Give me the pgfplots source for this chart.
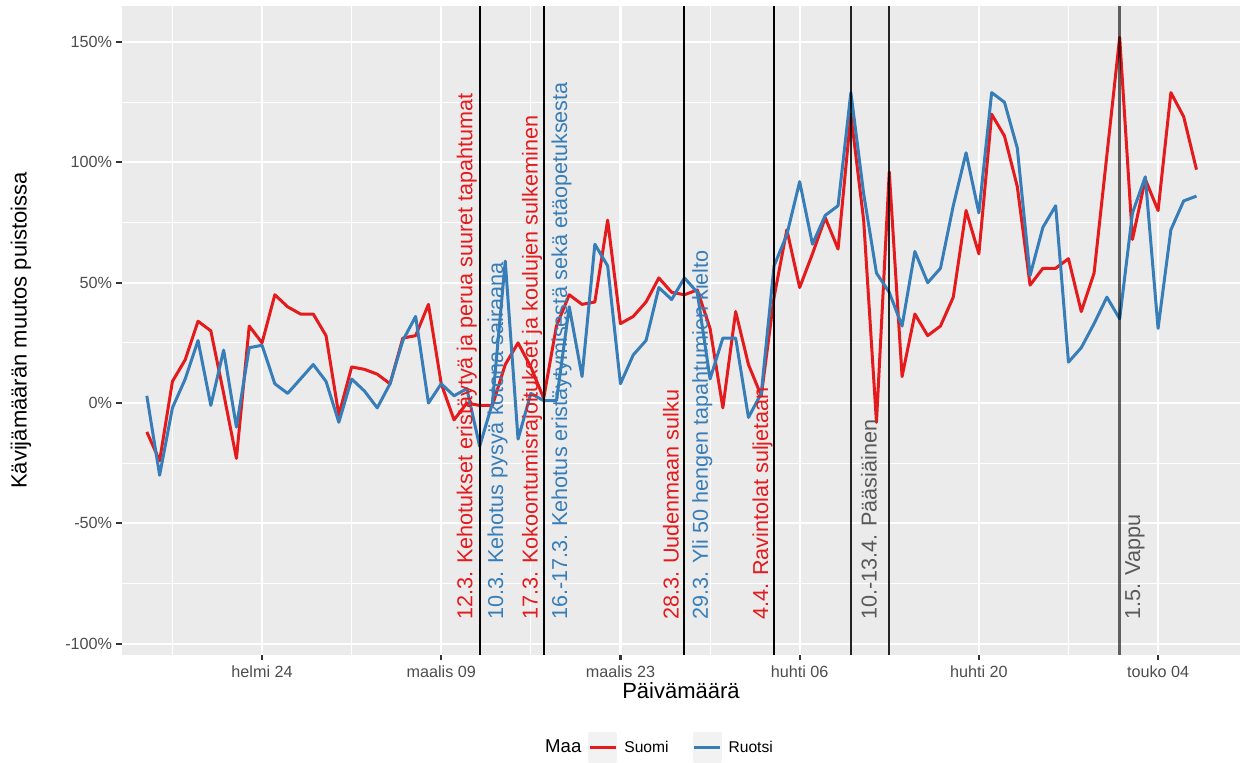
\documentclass[border=0pt]{standalone}
\usepackage{pgfplots}
\usepackage{pgfplotstable}
\pgfplotsset{compat=1.18}
\usepackage{fontspec}
\setmainfont{Liberation Sans}
\definecolor{suomi}{HTML}{E41A1C}
\definecolor{ruotsi}{HTML}{377EB8}
\definecolor{panelbg}{HTML}{EBEBEB}
\definecolor{ticktext}{HTML}{4D4D4D}
\definecolor{tickcol}{HTML}{333333}
\definecolor{keybg}{HTML}{F2F2F2}
\definecolor{grytext}{HTML}{595959}

\pgfplotstableread{
d suomi ruotsi
-9 -12 3
-8 -24 -30
-7 9 -2
-6 18 10
-5 34 26
-4 30 -1
-3 4 22
-2 -23 -10
-1 32 23
0 25 24
1 45 8
2 40 4
3 37 10
4 37 16
5 28 9
6 -5 -8
7 15 10
8 14 5
9 12 -2
10 8 8
11 27 26
12 28 36
13 41 0
14 8 8
15 -7 3
16 0 6
17 -1 -18
18 -1 0
19 16 59
20 25 -15
21 15 4
22 2 1
23 32 1
24 45 40
25 41 11
26 42 66
27 76 57
28 33 8
29 36 20
30 42 26
31 52 48
32 46 43
33 45 52
34 47 46
35 31 10
36 -2 27
37 38 27
38 16 -6
39 3 4
40 44 57
41 72 70
42 48 92
43 62 66
44 77 78
45 64 82
46 120 129
47 76 87
48 -8 54
49 96 46
50 11 32
51 37 63
52 28 50
53 32 56
54 44 82
55 80 104
56 62 79
57 120 129
58 111 125
59 90 106
60 49 53
61 56 73
62 56 82
63 60 17
64 38 23
65 54 33
66 103 44
67 152 35
68 68 79
69 93 94
70 80 31
71 129 72
72 119 84
73 97 86
}\datatable

\begin{document}
\begin{tikzpicture}
\useasboundingbox (-61pt,-54pt) rectangle (563.5pt,327.5pt);
\begin{axis}[
  at={(0,0)}, anchor=south west,
  width=559pt, height=324.5pt, scale only axis,
  xmin=-10.94, xmax=76.4,
  ymin=-104.7, ymax=165,
  axis background/.style={fill=panelbg},
  axis line style={draw=none},
  xtick={0,14,28,42,56,70},
  xticklabels={helmi 24, maalis 09, maalis 23, huhti 06, huhti 20, touko 04},
  minor xtick={-7,7,21,35,49,63},
  ytick={-100,-50,0,50,100,150},
  yticklabels={-100\%,-50\%,0\%,50\%,100\%,150\%},
  minor ytick={-75,-25,25,75,125},
  grid=both,
  major grid style={white, line width=1.07pt},
  minor grid style={white, line width=0.53pt},
  tick align=outside, tick pos=left,
  major tick length=2.75pt, minor tick length=0pt,
  tick style={color=tickcol, line width=1.07pt},
  ticklabel style={font=\fontsize{8.1}{9.5}\selectfont, text=ticktext},
  xticklabel style={anchor=north, inner sep=0pt, yshift=-2.5pt},
  yticklabel style={anchor=east, inner sep=0pt, xshift=-2pt},
  xlabel={Päivämäärä},
  ylabel={Kävijämäärän muutos puistoissa},
  label style={font=\fontsize{11}{13}\selectfont},
  xlabel style={at={(axis description cs:0.5,0)}, anchor=center, yshift=-18pt},
  ylabel style={at={(axis description cs:0,0.5)}, anchor=center, yshift=50.5pt},
  legend columns=-1,
  legend style={at={(axis description cs:0.4803,0)}, anchor=center, yshift=-46.5pt,
    draw=none, fill=none, inner sep=0pt, font=\fontsize{7.8}{9}\selectfont,
    nodes={inner sep=0pt},
    /tikz/column 2/.style={column sep=3.5pt},
    /tikz/column 3/.style={column sep=3.5pt},
    /tikz/column 4/.style={column sep=12pt},
    /tikz/column 5/.style={column sep=3.5pt}},
  legend image code/.code={
    \fill[keybg] (0pt,-7pt) rectangle (13pt,7pt);
    \draw[#1] (0pt,0pt) -- (13pt,0pt);
  },
]
\addlegendimage{empty legend}
\addlegendentry[font=\fontsize{9.3}{11}\selectfont]{Maa}
\addplot[suomi, line width=1.5pt, line join=round] table[x=d, y=suomi] {\datatable};
\addlegendentry{Suomi}
\addplot[ruotsi, line width=1.5pt, line join=round] table[x=d, y=ruotsi] {\datatable};
\addlegendentry{Ruotsi}

\addplot[black, line width=1pt, forget plot] coordinates {(17,-104.7) (17,165)};
\addplot[black, line width=1pt, forget plot] coordinates {(22,-104.7) (22,165)};
\addplot[black, line width=1pt, forget plot] coordinates {(33,-104.7) (33,165)};
\addplot[black, line width=1pt, forget plot] coordinates {(40,-104.7) (40,165)};
\addplot[black, opacity=0.85, line width=1pt, forget plot] coordinates {(46,-104.7) (46,165)};
\addplot[black, opacity=0.85, line width=1pt, forget plot] coordinates {(49,-104.7) (49,165)};
\addplot[black, opacity=0.6, line width=1.2pt, forget plot] coordinates {(67,-104.7) (67,165)};

\begin{scope}[every node/.style={rotate=90, anchor=west, inner sep=0pt, font=\fontsize{10.8}{12}\selectfont}]
\node[text=suomi] at (axis cs:16.0,-90.2) {12.3. Kehotukset eristäytyä ja perua suuret tapahtumat};
\node[text=ruotsi] at (axis cs:18.4,-90.2) {10.3. Kehotus pysyä kotona sairaana};
\node[text=suomi] at (axis cs:21.1,-90.2) {17.3. Kokoontumisrajoitukset ja koulujen sulkeminen};
\node[text=ruotsi] at (axis cs:23.4,-90.2) {16.-17.3. Kehotus eristäytymisestä sekä etäopetuksesta};
\node[text=suomi] at (axis cs:31.95,-90.2) {28.3. Uudenmaan sulku};
\node[text=ruotsi] at (axis cs:34.4,-90.2) {29.3. Yli 50 hengen tapahtumien kielto};
\node[text=suomi] at (axis cs:39.1,-90.2) {4.4. Ravintolat suljetaan};
\node[text=grytext] at (axis cs:47.4,-90.2) {10.-13.4. Pääsiäinen};
\node[text=grytext] at (axis cs:68.2,-90.2) {1.5. Vappu};
\end{scope}
\end{axis}
\end{tikzpicture}
\end{document}
